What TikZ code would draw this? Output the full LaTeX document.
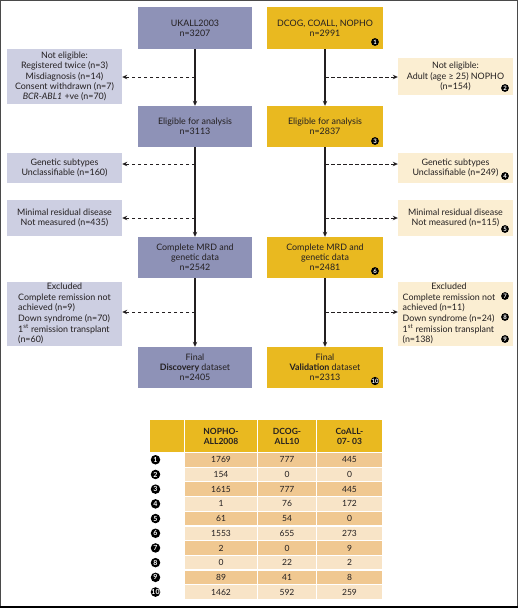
\documentclass[tikz,border=0pt]{standalone}
\usepackage{fontspec}
\setmainfont{Lato}
\usetikzlibrary{arrows.meta}
\definecolor{ukmain}{HTML}{8E92B7}
\definecolor{ukside}{HTML}{CDCFE2}
\definecolor{vmain}{HTML}{E9B920}
\definecolor{vside}{HTML}{FBEED2}
\definecolor{rowdark}{HTML}{F0C891}
\definecolor{rowlight}{HTML}{F8E4C7}
\definecolor{ink}{HTML}{231F20}
\definecolor{framecol}{HTML}{4A4A4A}
\tikzset{
  box/.style={inner sep=0pt, align=center, text=ink, font=\fontsize{8.9}{10.2}\selectfont},
  ukm/.style={box, fill=ukmain, minimum width=114},
  uks/.style={box, fill=ukside, minimum width=115},
  vm/.style={box, fill=vmain, minimum width=116},
  vs/.style={box, fill=vside, minimum width=115},
  numc/.style={circle, fill=black, text=white, inner sep=0pt, minimum size=7.8, font=\fontsize{6}{6}\selectfont\bfseries},
  tnum/.style={circle, fill=black, text=white, inner sep=0pt, minimum size=9.5, font=\fontsize{7}{7}\selectfont\bfseries},
  mainarrow/.style={draw=ink, line width=1.1pt, -{Stealth[length=5pt,width=4.5pt]}},
  sidearrow/.style={draw=ink, line width=0.9pt, dash pattern=on 3.5pt off 2.5pt, -{Stealth[length=5pt,width=4.5pt]}},
  cell/.style={inner sep=0pt, text=ink, minimum height=13.5, font=\fontsize{8.5}{9}\selectfont},
  hcell/.style={inner sep=0pt, text=ink, fill=vmain, minimum height=32, align=center, font=\fontsize{8.5}{10}\selectfont\bfseries},
}
\begin{document}
\begin{tikzpicture}[x=1pt,y=-1pt]
\useasboundingbox (0,0) rectangle (520,608);
\draw[framecol, line width=1pt] (0.5,0.5) rectangle (517.5,606);
\draw[black, line width=2pt] (0,606.5) -- (518,606.5);

% left column main
\node[ukm, minimum height=42] (uk) at (195,28) {UKALL2003\\n=3207};
\node[ukm, minimum height=41] (ukel) at (195,126.5) {Eligible for analysis\\n=3113};
\node[ukm, minimum height=41] (ukcm) at (195,257.5) {Complete MRD and\\genetic data\\n=2542};
\node[ukm, minimum height=41] (ukfin) at (195,367.5) {Final\\\textbf{Discovery} dataset\\n=2405};

% left side boxes
\node[uks, minimum height=55] (ukne) at (64.5,76.5) {Not eligible:\\Registered twice (n=3)\\Misdiagnosis (n=14)\\Consent withdrawn (n=7)\\\textit{BCR-ABL1} +ve (n=70)};
\node[uks, minimum height=30] (ukgen) at (64.5,168) {Genetic subtypes\\Unclassifiable (n=160)};
\node[uks, minimum height=36] (ukmrd) at (64.5,218) {Minimal residual disease\\Not measured (n=435)};
\node[uks, minimum height=64] (ukex) at (64.5,314) {\fontsize{8.9}{10.5}\selectfont\begin{tabular}{@{}l@{}}\multicolumn{1}{@{}c@{}}{Excluded}\\Complete remission not\\achieved (n=9)\\Down syndrome (n=70)\\1\textsuperscript{st} remission transplant\\(n=60)\end{tabular}};

% right column main
\node[vm, minimum height=42] (dc) at (325,28) {DCOG, COALL, NOPHO\\n=2991};
\node[vm, minimum height=41] (dcel) at (325,126.5) {Eligible for analysis\\n=2837};
\node[vm, minimum height=41] (dccm) at (325,257.5) {Complete MRD and\\genetic data\\n=2481};
\node[vm, minimum height=41] (dcfin) at (325,367.5) {Final\\\textbf{Validation} dataset\\n=2313};

% right side boxes
\node[vs, minimum height=37] (dcne) at (455.5,76.5) {Not eligible:\\Adult (age ≥ 25) NOPHO\\(n=154)};
\node[vs, minimum height=30] (dcgen) at (455.5,168) {Genetic subtypes\\Unclassifiable (n=249)};
\node[vs, minimum height=36] (dcmrd) at (455.5,218) {Minimal residual disease\\Not measured (n=115)};
\node[vs, minimum height=64] (dcex) at (455.5,314) {\fontsize{8.9}{10.5}\selectfont\begin{tabular}{@{}l@{\hspace{13pt}}}\multicolumn{1}{@{}c@{\hspace{13pt}}}{Excluded}\\Complete remission not\\achieved (n=11)\\Down syndrome (n=24)\\1\textsuperscript{st} remission transplant\\(n=138)\end{tabular}};

% circled numbers in flowchart
\node[numc] (n1) at (375,42) {1};
\node[numc] (n2) at (505,88) {2};
\node[numc] (n3) at (375,141) {3};
\node[numc] (n4) at (505,176) {4};
\node[numc] (n5) at (505,229) {5};
\node[numc] (n6) at (375,271) {6};
\node[numc] (n7) at (505,296) {7};
\node[numc] (n8) at (505,317) {8};
\node[numc] (n9) at (505,339) {9};
\node[numc] (n10) at (375,381) {10};

% main arrows
\draw[mainarrow] (uk) -- (ukel);
\draw[mainarrow] (ukel) -- (ukcm);
\draw[mainarrow] (ukcm) -- (ukfin);
\draw[mainarrow] (dc) -- (dcel);
\draw[mainarrow] (dcel) -- (dccm);
\draw[mainarrow] (dccm) -- (dcfin);

% junctions
\coordinate (j1) at (195,77);
\coordinate (j2) at (195,164);
\coordinate (j3) at (195,218);
\coordinate (j4) at (195,312);
\coordinate (k1) at (325,77);
\coordinate (k2) at (325,164);
\coordinate (k3) at (325,218);
\coordinate (k4) at (325,312);
\draw[sidearrow] (j1) -- (ukne.east |- j1);
\draw[sidearrow] (j2) -- (ukgen.east |- j2);
\draw[sidearrow] (j3) -- (ukmrd.east |- j3);
\draw[sidearrow] (j4) -- (ukex.east |- j4);
\draw[sidearrow] (k1) -- (dcne.west |- k1);
\draw[sidearrow] (k2) -- (dcgen.west |- k2);
\draw[sidearrow] (k3) -- (dcmrd.west |- k3);
\draw[sidearrow] (k4) -- (dcex.west |- k4);

% table header
\node[hcell, minimum width=34] (h1) at (167,436) {};
\node[hcell, minimum width=72] (h2) at (221,436) {NOPHO-\\ALL2008};
\node[hcell, minimum width=58] (h3) at (287,436) {DCOG-\\ALL10};
\node[hcell, minimum width=65] (h4) at (349.5,436) {CoALL-\\07- 03};

\foreach \i/\a/\b/\c/\col in {1/1769/777/445/rowdark, 2/154/0/0/rowlight, 3/1615/777/445/rowdark, 4/1/76/172/rowlight, 5/61/54/0/rowdark, 6/1553/655/273/rowlight, 7/2/0/9/rowdark, 8/0/22/2/rowlight, 9/89/41/8/rowdark, 10/1462/592/259/rowlight}{
  \pgfmathsetmacro\yc{453+(\i-1)*14.7+6.75}
  \node[tnum] (t\i) at (155.5,\yc) {\i};
  \node[cell, fill=\col, minimum width=72] (ra\i) at (221,\yc) {\a};
  \node[cell, fill=\col, minimum width=58] (rb\i) at (287,\yc) {\b};
  \node[cell, fill=\col, minimum width=65] (rc\i) at (349.5,\yc) {\c};
}
\end{tikzpicture}
\end{document}
